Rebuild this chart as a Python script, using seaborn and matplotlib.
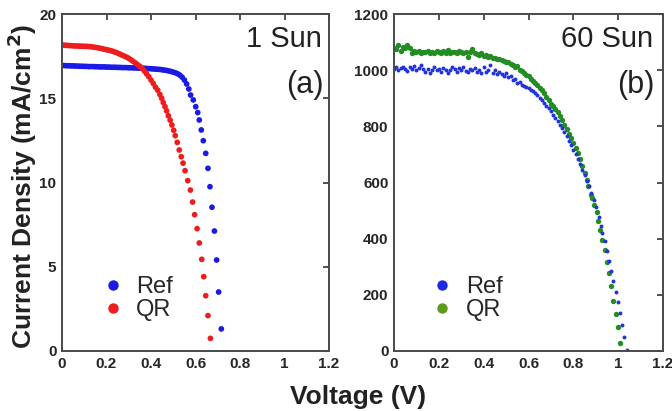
"""
J-V curves of Ref and QR cells under 1 sun and 60 sun illumination.
"""
import numpy as np
import pandas as pd
import seaborn as sns
import matplotlib.pyplot as plt
from matplotlib.lines import Line2D

# ---- data, panel (a): 1 sun ----
volt_ref_1sun = [0.00, 0.01, 0.02, 0.03, 0.04, 0.05, 0.06, 0.07, 0.08, 0.09,
                 0.10, 0.11, 0.12, 0.13, 0.14, 0.15, 0.16, 0.17, 0.18, 0.19,
                 0.20, 0.21, 0.22, 0.23, 0.24, 0.25, 0.26, 0.27, 0.28, 0.29,
                 0.30, 0.31, 0.32, 0.33, 0.34, 0.35, 0.36, 0.37, 0.38, 0.39,
                 0.40, 0.41, 0.42, 0.43, 0.44, 0.45, 0.46, 0.47, 0.48, 0.49,
                 0.50, 0.51, 0.52, 0.53, 0.54, 0.55, 0.56, 0.57,
                 0.578, 0.590, 0.601, 0.610, 0.617, 0.626, 0.635, 0.646,
                 0.656, 0.665, 0.674, 0.685, 0.695, 0.704, 0.716]
curr_ref_1sun = [16.95, 16.94, 16.93, 16.93, 16.92, 16.92, 16.91, 16.91, 16.90, 16.90,
                 16.89, 16.89, 16.88, 16.88, 16.88, 16.87, 16.87, 16.86, 16.86, 16.86,
                 16.85, 16.85, 16.84, 16.84, 16.84, 16.83, 16.83, 16.82, 16.82, 16.82,
                 16.81, 16.81, 16.80, 16.80, 16.79, 16.79, 16.78, 16.78, 16.77, 16.76,
                 16.75, 16.74, 16.73, 16.72, 16.71, 16.69, 16.67, 16.65, 16.62, 16.59,
                 16.55, 16.51, 16.45, 16.37, 16.25, 16.08, 15.85, 15.55,
                 15.19, 14.90, 14.50, 14.15, 13.71, 13.12, 12.48, 11.73,
                 10.84, 9.75, 8.53, 7.12, 5.40, 3.50, 1.31]

volt_qr_1sun = [0.00, 0.01, 0.02, 0.03, 0.04, 0.05, 0.06, 0.07, 0.08, 0.09,
                0.10, 0.11, 0.12, 0.13, 0.14, 0.15, 0.16, 0.17, 0.18, 0.19,
                0.20, 0.21, 0.22, 0.23, 0.24, 0.25, 0.26, 0.27, 0.28, 0.29,
                0.30, 0.31, 0.32, 0.33, 0.34, 0.35, 0.36, 0.37, 0.38, 0.39,
                0.40, 0.41, 0.42, 0.43, 0.44,
                0.448, 0.455, 0.463, 0.470, 0.478, 0.486, 0.494, 0.502,
                0.509, 0.518, 0.527, 0.536, 0.544, 0.553, 0.565, 0.577,
                0.587, 0.596, 0.607, 0.617, 0.628, 0.637, 0.646, 0.656, 0.667]
curr_qr_1sun = [18.16, 18.15, 18.14, 18.13, 18.12, 18.11, 18.10, 18.10, 18.09, 18.09,
                18.08, 18.08, 18.07, 18.06, 18.04, 18.02, 18.00, 17.97, 17.94, 17.91,
                17.88, 17.85, 17.82, 17.78, 17.73, 17.68, 17.62, 17.56, 17.50, 17.44,
                17.37, 17.28, 17.19, 17.09, 16.99, 16.89, 16.78, 16.62, 16.45, 16.28,
                16.08, 15.88, 15.66, 15.48, 15.22,
                15.00, 14.75, 14.50, 14.25, 13.96, 13.70, 13.41, 13.10,
                12.78, 12.38, 11.93, 11.53, 11.15, 10.70, 10.11, 9.55,
                8.84, 8.09, 7.26, 6.41, 5.44, 4.41, 3.28, 2.10, 0.75]

# ---- panel (b): 60 sun ----
volt_ref_60sun = [0.00, 0.01, 0.02, 0.03, 0.04, 0.05, 0.06, 0.07, 0.08, 0.09,
                  0.10, 0.11, 0.12, 0.13, 0.14, 0.15, 0.16, 0.17, 0.18, 0.19,
                  0.20, 0.21, 0.22, 0.23, 0.24, 0.25, 0.26, 0.27, 0.28, 0.29,
                  0.30, 0.31, 0.32, 0.33, 0.34, 0.35, 0.36, 0.37, 0.38, 0.39,
                  0.40, 0.41, 0.42, 0.43, 0.44, 0.45, 0.46, 0.47, 0.48, 0.49,
                  0.50, 0.51, 0.52, 0.53, 0.54, 0.55, 0.56, 0.57, 0.58, 0.59,
                  0.60, 0.61, 0.62, 0.63, 0.64, 0.65, 0.66, 0.67, 0.68, 0.69,
                  0.70, 0.71, 0.72, 0.73, 0.74, 0.75, 0.76, 0.77, 0.78, 0.79,
                  0.80, 0.81, 0.82, 0.83, 0.84, 0.85, 0.86, 0.87, 0.88, 0.89,
                  0.90, 0.913, 0.922, 0.929, 0.940, 0.949, 0.960, 0.969, 0.978,
                  0.989, 1.000, 1.008, 1.018, 1.027, 1.038]
curr_ref_60sun = [1005, 1010, 1000, 1008, 1012, 1003, 998, 1010, 1005, 1015,
                  1000, 1008, 1018, 1003, 995, 1005, 990, 1002, 1010, 1000,
                  1004, 995, 1008, 1000, 990, 1000, 1010, 1003, 995, 1006,
                  1000, 1012, 998, 992, 1005, 1000, 1008, 995, 1002, 990,
                  1010, 995, 1000, 1018, 990, 1000, 985, 995, 985, 980,
                  990, 975, 980, 965, 970, 955, 958, 948, 945, 940,
                  935, 930, 925, 918, 910, 902, 893, 884, 874, 864,
                  853, 842, 830, 818, 806, 793, 779, 764, 748, 732,
                  716, 700, 683, 665, 646, 627, 607, 586, 563, 539,
                  512, 478, 445, 419, 393, 355, 319, 286, 249,
                  211, 173, 136, 93, 49, 3]

volt_qr_60sun = [0.00, 0.01, 0.02, 0.03, 0.04, 0.05, 0.06, 0.07, 0.08, 0.09,
                 0.10, 0.11, 0.12, 0.13, 0.14, 0.15, 0.16, 0.17, 0.18, 0.19,
                 0.20, 0.21, 0.22, 0.23, 0.24, 0.25, 0.26, 0.27, 0.28, 0.29,
                 0.30, 0.31, 0.32, 0.33, 0.34, 0.35, 0.36, 0.37, 0.38, 0.39,
                 0.40, 0.41, 0.42, 0.43, 0.44, 0.45, 0.46, 0.47, 0.48, 0.49,
                 0.50, 0.51, 0.52, 0.53, 0.54, 0.55, 0.56, 0.57, 0.58, 0.59,
                 0.60, 0.61, 0.62, 0.63, 0.64, 0.65, 0.66, 0.67, 0.68, 0.69,
                 0.70, 0.71, 0.72, 0.73, 0.74, 0.75, 0.76, 0.77, 0.78, 0.79,
                 0.80, 0.81, 0.82, 0.83, 0.84, 0.85, 0.859, 0.867, 0.877, 0.883,
                 0.892, 0.904, 0.910, 0.919, 0.929, 0.940, 0.950, 0.959, 0.969,
                 0.978, 0.989, 0.998, 1.008]
curr_qr_60sun = [1080, 1075, 1088, 1070, 1082, 1078, 1090, 1078, 1062, 1070,
                 1065, 1068, 1062, 1066, 1064, 1070, 1062, 1066, 1060, 1068,
                 1064, 1060, 1068, 1062, 1072, 1060, 1066, 1064, 1062, 1068,
                 1064, 1062, 1066, 1048, 1064, 1075, 1060, 1058, 1055, 1060,
                 1052, 1055, 1048, 1050, 1042, 1045, 1038, 1040, 1035, 1033,
                 1030, 1028, 1022, 1020, 1012, 1015, 1000, 998, 990, 983,
                 978, 970, 963, 955, 947, 938, 928, 918, 906, 894,
                 881, 872, 861, 850, 838, 822, 806, 790, 773, 757,
                 740, 722, 704, 682, 660, 634, 609, 588, 556, 544,
                 520, 495, 464, 430, 395, 360, 318, 277, 231,
                 179, 132, 84, 27]

cells = ['Ref', 'QR']
x_ticks = [0, 0.2, 0.4, 0.6, 0.8, 1, 1.2]
x_tick_labels = ['0', '0.2', '0.4', '0.6', '0.8', '1', '1.2']
y_ticks_a = [0, 5, 10, 15, 20]
y_ticks_b = [0, 200, 400, 600, 800, 1000, 1200]


def make_frame(volt_ref, curr_ref, volt_qr, curr_qr):
    """Stack the two cells into one long-form table for seaborn."""
    df_ref = pd.DataFrame({'volt': volt_ref, 'curr': curr_ref, 'cell': 'Ref'})
    df_qr = pd.DataFrame({'volt': volt_qr, 'curr': curr_qr, 'cell': 'QR'})
    return pd.concat([df_ref, df_qr], ignore_index=True)


def style_axis(ax, y_ticks, y_max):
    ax.set_xlim(0, 1.2)
    ax.set_ylim(0, y_max)
    ax.set_xticks(x_ticks)
    ax.set_xticklabels(x_tick_labels)
    ax.set_yticks(y_ticks)
    ax.set_xlabel('')
    ax.set_ylabel('')
    ax.tick_params(direction='in', length=4, width=1.2, color='#333333',
                   top=True, right=True, labelsize=11, pad=4)
    for lab in ax.get_xticklabels() + ax.get_yticklabels():
        lab.set_fontweight('bold')
    for sp in ax.spines.values():
        sp.set_visible(True)
        sp.set_color('#4a4a4a')
        sp.set_linewidth(1.4)


def add_legend(ax, colors, anchor):
    handles = [Line2D([], [], marker='o', linestyle='', markersize=7.5,
                      markerfacecolor=c, markeredgewidth=0) for c in colors]
    ax.legend(handles, cells, loc='lower left', bbox_to_anchor=anchor,
              frameon=False, fontsize=17, handletextpad=0.5,
              labelspacing=0.05, handlelength=1.0, borderaxespad=0)


sns.set_style('white')
plt.rcParams['font.family'] = ['Liberation Sans', 'DejaVu Sans']

fig = plt.figure(figsize=(6.72, 4.11), dpi=100)
ax_a = fig.add_axes([62 / 672, 1 - 351 / 411, 267 / 672, 337 / 411])
ax_b = fig.add_axes([394 / 672, 1 - 351 / 411, 269 / 672, 337 / 411])

# panel (a)
df_a = make_frame(volt_ref_1sun, curr_ref_1sun, volt_qr_1sun, curr_qr_1sun)
sns.scatterplot(data=df_a, x='volt', y='curr', hue='cell', hue_order=cells,
                palette={'Ref': '#1a1ae6', 'QR': '#ee1c1c'}, s=17,
                linewidth=0, legend=False, ax=ax_a)
style_axis(ax_a, y_ticks_a, 20)
add_legend(ax_a, ['#1a1ae6', '#ee1c1c'], (0.11, 0.06))
ax_a.text(0.972, 0.925, '1 Sun', transform=ax_a.transAxes, ha='right',
          va='center', fontsize=21, color='#222222')
ax_a.text(0.978, 0.79, '(a)', transform=ax_a.transAxes, ha='right',
          va='center', fontsize=22, color='#222222')

# panel (b)
df_b = make_frame(volt_ref_60sun, curr_ref_60sun, volt_qr_60sun, curr_qr_60sun)
sns.scatterplot(data=df_b[df_b['cell'] == 'QR'], x='volt', y='curr',
                color='#238c23', s=15, linewidth=0, legend=False, ax=ax_b)
sns.scatterplot(data=df_b[df_b['cell'] == 'Ref'], x='volt', y='curr',
                color='#2233dd', s=8, linewidth=0, legend=False, ax=ax_b)
style_axis(ax_b, y_ticks_b, 1200)
add_legend(ax_b, ['#1a2ae6', '#5f9a1e'], (0.10, 0.06))
ax_b.text(0.965, 0.925, '60 Sun', transform=ax_b.transAxes, ha='right',
          va='center', fontsize=21, color='#222222')
ax_b.text(0.968, 0.79, '(b)', transform=ax_b.transAxes, ha='right',
          va='center', fontsize=22, color='#222222')

fig.text(22 / 672, 1 - 186 / 411, 'Current Density (mA/cm$^\\mathbf{2}$)',
         rotation=90, ha='center', va='center', fontsize=19,
         fontweight='bold', color='#222222')
fig.text(358 / 672, 1 - 397 / 411, 'Voltage (V)', ha='center', va='center',
         fontsize=19, fontweight='bold', color='#222222')

fig.savefig('out.png', dpi=100)
